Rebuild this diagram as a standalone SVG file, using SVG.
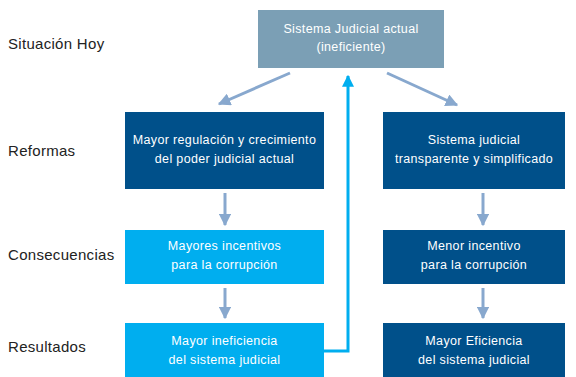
<svg xmlns="http://www.w3.org/2000/svg" width="576" height="377" viewBox="0 0 576 377">
<defs>
<style>
.lbl{font-family:"Liberation Sans",Arial,sans-serif;font-size:15px;letter-spacing:0.3px;fill:#222}
.nt{font-family:"Liberation Sans",Arial,sans-serif;font-size:12.5px;letter-spacing:0.35px;fill:#ffffff;text-anchor:middle}
.gray{fill:#7B9FB5}
.dark{fill:#00508A}
.cyan{fill:#00AEEF}
.arr{stroke:#88A8CE;stroke-width:3;fill:none}
.fb{stroke:#00AEEF;stroke-width:3;fill:none}
</style>
<marker id="ah" viewBox="0 0 10 10" refX="9" refY="5" markerWidth="4.2" markerHeight="4.2" orient="auto" markerUnits="strokeWidth">
<path d="M0,0 L10,5 L0,10 Z" fill="#88A8CE"/>
</marker>
<marker id="ahc" viewBox="0 0 10 10" refX="9" refY="5" markerWidth="4" markerHeight="4" orient="auto" markerUnits="strokeWidth">
<path d="M0,0 L10,5 L0,10 Z" fill="#00AEEF"/>
</marker>
</defs>
<rect width="576" height="377" fill="#ffffff"/>
<g id="labels">
<text class="lbl" x="8" y="49">Situación Hoy</text>
<text class="lbl" x="8" y="156">Reformas</text>
<text class="lbl" x="8" y="260">Consecuencias</text>
<text class="lbl" x="8" y="352">Resultados</text>
</g>
<g id="n-hoy">
<rect class="gray" x="258" y="10" width="186" height="58"/>
<text class="nt" x="351" y="33">Sistema Judicial actual</text>
<text class="nt" x="351" y="51">(ineficiente)</text>
</g>
<g id="n-ref-left">
<rect class="dark" x="125" y="112" width="199" height="77"/>
<text class="nt" x="224.5" y="144">Mayor regulación y crecimiento</text>
<text class="nt" x="224.5" y="163">del poder judicial actual</text>
</g>
<g id="n-ref-right">
<rect class="dark" x="383" y="112" width="182" height="77"/>
<text class="nt" x="474" y="144">Sistema judicial</text>
<text class="nt" x="474" y="163">transparente y simplificado</text>
</g>
<g id="n-cons-left">
<rect class="cyan" x="125" y="230" width="199" height="54"/>
<text class="nt" x="224.5" y="250">Mayores incentivos</text>
<text class="nt" x="224.5" y="269">para la corrupción</text>
</g>
<g id="n-cons-right">
<rect class="dark" x="383" y="230" width="182" height="54"/>
<text class="nt" x="474" y="250">Menor incentivo</text>
<text class="nt" x="474" y="269">para la corrupción</text>
</g>
<g id="n-res-left">
<rect class="cyan" x="125" y="323" width="199" height="54"/>
<text class="nt" x="224.5" y="345">Mayor ineficiencia</text>
<text class="nt" x="224.5" y="364">del sistema judicial</text>
</g>
<g id="n-res-right">
<rect class="dark" x="383" y="323" width="182" height="54"/>
<text class="nt" x="474" y="345">Mayor Eficiencia</text>
<text class="nt" x="474" y="364">del sistema judicial</text>
</g>
<g id="connectors">
<line class="arr" x1="290" y1="73" x2="219" y2="104" marker-end="url(#ah)"/>
<line class="arr" x1="387" y1="73" x2="457" y2="105" marker-end="url(#ah)"/>
<line class="arr" x1="225" y1="193" x2="225" y2="225" marker-end="url(#ah)"/>
<line class="arr" x1="225" y1="288" x2="225" y2="318" marker-end="url(#ah)"/>
<line class="arr" x1="483" y1="193" x2="483" y2="225" marker-end="url(#ah)"/>
<line class="arr" x1="483" y1="288" x2="483" y2="318" marker-end="url(#ah)"/>
<polyline class="fb" points="324,351 348,351 348,76" marker-end="url(#ahc)"/>
</g>
</svg>
